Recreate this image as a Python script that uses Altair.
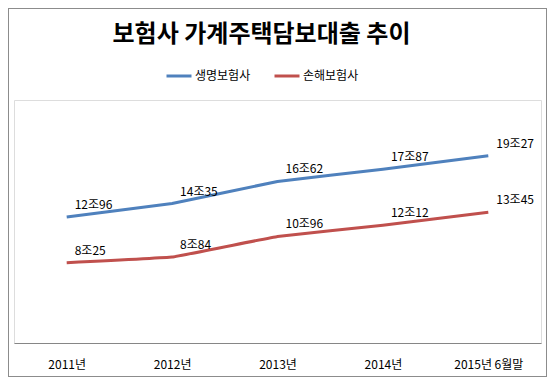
import altair as alt
import pandas as pd

years = ["2011년", "2012년", "2013년", "2014년", "2015년 6월말"]
series_names = ["생명보험사", "손해보험사"]
life_values = [12.96, 14.35, 16.62, 17.87, 19.27]
nonlife_values = [8.25, 8.84, 10.96, 12.12, 13.45]
colors = ["#4F81BD", "#C0504D"]

rows = []
for name, vals in zip(series_names, [life_values, nonlife_values]):
    for y, v in zip(years, vals):
        rows.append({"year": y, "series": name, "value": v,
                     "label": f"{v:.2f}".replace(".", "조")})
df = pd.DataFrame(rows)

FONT = "Noto Sans CJK KR"
W, H = 527, 243

x = alt.X("year:N", sort=years, title=None,
          scale=alt.Scale(type="point", padding=0.5),
          axis=alt.Axis(labelAngle=0, ticks=False, domainColor="#868686", domainWidth=1,
                        labelFont=FONT, labelFontSize=12, labelColor="#000000",
                        labelPadding=16, grid=False))
y = alt.Y("value:Q", title=None, scale=alt.Scale(domain=[0, 25], nice=False, zero=True),
          axis=None)

color = alt.Color("series:N", scale=alt.Scale(domain=series_names, range=colors),
                  legend=alt.Legend(orient="none", legendX=151, legendY=-38,
                                    direction="horizontal", title=None,
                                    symbolType="stroke", symbolSize=625,
                                    symbolStrokeWidth=3, labelFont=FONT,
                                    labelFontSize=12, labelColor="#000000",
                                    columnPadding=17, labelOffset=2, padding=0))

lines = alt.Chart(df).mark_line(strokeWidth=3, interpolate="cardinal", tension=0.85,
                                strokeJoin="round").encode(
    x=x, y=y, color=color)

labels = alt.Chart(df).mark_text(align="left", baseline="middle", dx=8, dy=-12,
                                 font=FONT, fontSize=12, color="#000000").encode(
    x=alt.X("year:N", sort=years), y="value:Q", text="label:N")

border = alt.Chart(df).mark_rect(fill="transparent", stroke="#8c8c8c", strokeWidth=1).encode(
    x=alt.value(-5.5), x2=alt.value(532.5), y=alt.value(-91.5), y2=alt.value(276.5))

chart = alt.layer(lines, labels, border).properties(
    width=W, height=H,
    padding={"left": 6, "top": 92, "right": 6, "bottom": 34},
    autosize=alt.AutoSizeParams(type="none"),
    title=alt.TitleParams("보험사 가계주택담보대출 추이", font=FONT, fontSize=24,
                          fontWeight="bold", color="#000000", anchor="middle",
                          dx=-16, offset=-39),
).configure_view(stroke=None).configure(background="#ffffff")

chart.save("out.html", embed_options={"renderer": "svg", "actions": False})
